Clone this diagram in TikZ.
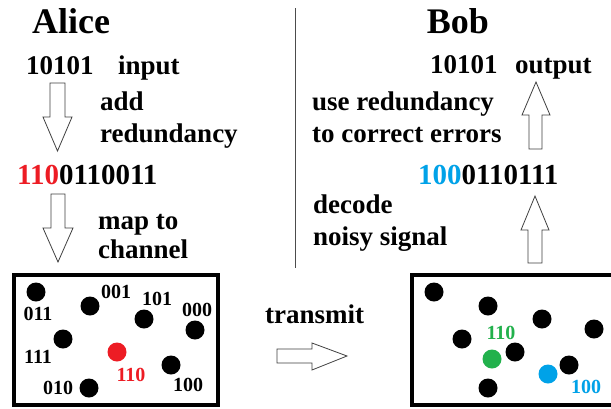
\documentclass[tikz,border=0pt]{standalone}
\usepackage{fontspec}
\setmainfont{Liberation Serif}
\definecolor{pred}{HTML}{ED1C24}
\definecolor{pgreen}{HTML}{22B14C}
\definecolor{pblue}{HTML}{00A2E8}
\begin{document}
\begin{tikzpicture}[x=1pt,y=-1pt,
  big/.style={font=\fontsize{36}{36}\selectfont\bfseries, inner sep=0, anchor=base},
  txt/.style={font=\fontsize{27}{27}\selectfont\bfseries, inner sep=0, anchor=base west},
  codetxt/.style={font=\fontsize{29}{29}\selectfont\bfseries, inner sep=0, anchor=base west},
  lbl/.style={font=\fontsize{20}{20}\selectfont\bfseries, inner sep=0},
  dot/.style={circle, fill=black, minimum size=19pt, inner sep=0},
  blockarrow/.style={draw=black!75, line width=0.8pt, fill=white, line join=miter},
  chbox/.style={draw, line width=3.5pt}]
\useasboundingbox (0,0) rectangle (611,408);
\clip (0,0) rectangle (611,408);
\fill[white] (0,0) rectangle (611,408);

% divider
\coordinate (dtop) at (295,8);
\coordinate (dbot) at (295,268);
\draw[black!70, line width=0.9pt] (dtop) -- (dbot);

% titles
\node[big] (alice) at (71,33) {Alice};
\node[big] (bob) at (458,33) {Bob};

% Alice side
\node[txt] (ain) at (26,74) {10101};
\node[txt] (ainl) at (118,74) {input};
\node[txt] (add1) at (100,110) {add};
\node[txt] (add2) at (100,142) {redundancy};
\node[codetxt] (acode) at (17,184) {\textcolor{pred}{110}0110011};
\node[txt] (map1) at (98,229) {map to};
\node[txt] (map2) at (98,258) {channel};

% Bob side
\node[txt] (bout) at (430,73) {10101};
\node[txt] (boutl) at (515,73) {output};
\node[txt] (use1) at (312,110) {use redundancy};
\node[txt] (use2) at (312,142) {to correct errors};
\node[codetxt] (bcode) at (418,184) {\textcolor{pblue}{100}0110111};
\node[txt] (dec1) at (313,213) {decode};
\node[txt] (dec2) at (313,245) {noisy signal};
\node[txt] (trans) at (265,323) {transmit};

% block arrows
\draw[blockarrow] (50,83) -- (65,83) -- (65,117) -- (72,117) -- (57.5,151) -- (43,117) -- (50,117) -- cycle;
\draw[blockarrow] (51,194) -- (65,194) -- (65,228) -- (73,228) -- (58,262) -- (43,228) -- (51,228) -- cycle;
\draw[blockarrow] (529,149) -- (542,149) -- (542,115) -- (550,115) -- (536,82) -- (522,115) -- (529,115) -- cycle;
\draw[blockarrow] (528,263) -- (542,263) -- (542,230) -- (549,230) -- (535,196) -- (521,230) -- (528,230) -- cycle;
\draw[blockarrow] (277,349) -- (312,349) -- (312,343) -- (347,356) -- (312,370) -- (312,363) -- (277,363) -- cycle;

% channel boxes
\draw[chbox] (14,275) rectangle (218,405);
\draw[chbox] (412,275) rectangle (616,405);

% Alice constellation
\node[dot] (a1) at (36,292) {};
\node[dot] (a2) at (90,306) {};
\node[dot] (a3) at (144,319) {};
\node[dot] (a4) at (195,330) {};
\node[dot] (a5) at (63,339) {};
\node[dot, fill=pred] (a6) at (117,352) {};
\node[dot] (a7) at (171,365) {};
\node[dot] (a8) at (89,388) {};
\node[lbl] (l011) at (38,314) {011};
\node[lbl] (l001) at (116,292) {001};
\node[lbl] (l101) at (157,299) {101};
\node[lbl] (l000) at (197,310) {000};
\node[lbl] (l111) at (38,357) {111};
\node[lbl, text=pred] (l110) at (131,375) {110};
\node[lbl] (l100) at (188,385) {100};
\node[lbl] (l010) at (58,388) {010};

% Bob constellation
\node[dot] (b1) at (434,292) {};
\node[dot] (b2) at (488,306) {};
\node[dot] (b3) at (542,319) {};
\node[dot] (b4) at (594,329) {};
\node[dot] (b5) at (462,339) {};
\node[dot] (b6) at (515,352) {};
\node[dot] (b7) at (569,365) {};
\node[dot] (b8) at (488,388) {};
\node[dot, fill=pgreen] (bg) at (492,359) {};
\node[dot, fill=pblue] (bb) at (548,374) {};
\node[lbl, text=pgreen] (m110) at (501,333) {110};
\node[lbl, text=pblue] (m100) at (586,387) {100};
\end{tikzpicture}
\end{document}
